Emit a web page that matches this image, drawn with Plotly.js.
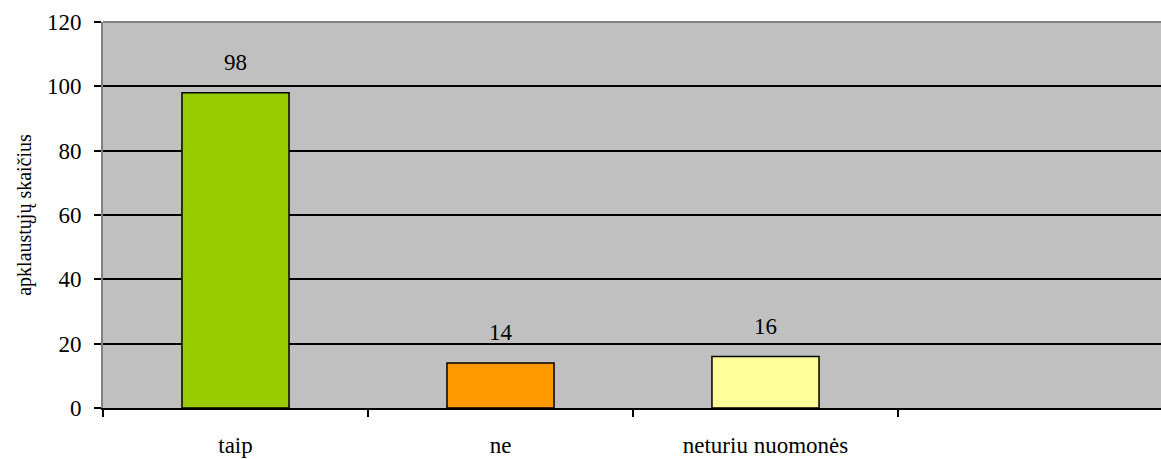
<!DOCTYPE html>
<html><head><meta charset="utf-8">
<script src="https://cdn.plot.ly/plotly-3.0.1.min.js"></script>
<style>html,body{margin:0;padding:0;overflow:hidden;background:#fff}</style>
</head><body><div id="chart" style="width:1161px;height:459px"></div>
<script>
const categories = ["taip", "ne", "neturiu nuomonės"];
const values = [98, 14, 16];
const barColors = ["#99CC00", "#FF9900", "#FFFF99"];
const yTicks = [0, 20, 40, 60, 80, 100, 120];
const yTitle = "apklaustųjų skaičius";

const font = "Liberation Serif";

const trace = {
  type: "bar",
  x: categories,
  y: values,
  width: 0.404,
  marker: {color: barColors, line: {color: "#000", width: 1.5}},
  hoverinfo: "none"
};

const annotations = categories.map((c, i) => ({
  x: c, y: values[i], text: String(values[i]),
  showarrow: false, yanchor: "middle", yshift: 30,
  font: {family: font, size: 23, color: "#000"}
}));

const layout = {
  width: 1161, height: 459,
  margin: {l: 103, r: 0, t: 22, b: 51},
  paper_bgcolor: "#fff",
  plot_bgcolor: "#C0C0C0",
  showlegend: false,
  font: {family: font, size: 23, color: "#000"},
  xaxis: {
    type: "category",
    range: [-0.5, 3.4925],
    tickson: "boundaries",
    ticks: "outside", ticklen: 7, tickwidth: 1.5, tickcolor: "#000",
    ticklabelstandoff: 15,
    showline: true, linecolor: "#000", linewidth: 2,
    showgrid: false, zeroline: false,
    tickfont: {family: font, size: 23, color: "#000"}
  },
  yaxis: {
    range: [0, 120],
    tickvals: yTicks,
    ticks: "outside", ticklen: 7, tickwidth: 2, tickcolor: "#000",
    ticklabelstandoff: 8,
    showline: true, linecolor: "#808080", linewidth: 2,
    showgrid: true, gridcolor: "#000", gridwidth: 2,
    zeroline: false,
    tickfont: {family: font, size: 23, color: "#000"},
    title: {text: yTitle, font: {family: font, size: 20, color: "#000"}, standoff: 10}
  },
  shapes: [{type: "line", xref: "paper", yref: "paper", x0: 0, x1: 1, y0: 1, y1: 1, line: {color: "#808080", width: 2}}],
  annotations: annotations
};

Plotly.newPlot("chart", [trace], layout, {staticPlot: true, displayModeBar: false});
</script></body></html>
